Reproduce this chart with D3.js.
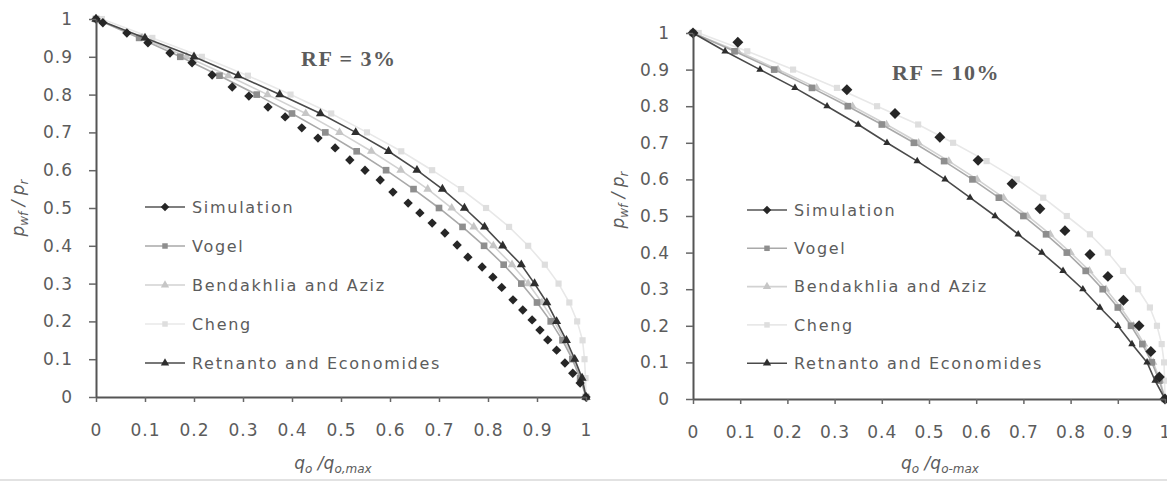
<!DOCTYPE html>
<html>
<head>
<meta charset="utf-8">
<script src="https://cdn.jsdelivr.net/npm/d3@7"></script>
<style>
  body { margin: 0; background: #fff; }
  svg { display: block; }
  text { font-family: "DejaVu Sans", sans-serif; fill: #5c5c5c; }
</style>
</head>
<body>
<svg id="chart"></svg>
<script>
// p_wf / p_r levels shared by the correlation curves
let pSteps = [1, 0.95, 0.9, 0.85, 0.8, 0.75, 0.7, 0.65, 0.6, 0.55, 0.5, 0.45, 0.4, 0.35, 0.3, 0.25, 0.2, 0.15, 0.1, 0.05, 0];

// q_o / q_o,max
let vogelQ = [0, 0.088, 0.172, 0.252, 0.328, 0.4, 0.468, 0.532, 0.592, 0.648, 0.7, 0.748, 0.792, 0.832, 0.868, 0.9, 0.928, 0.952, 0.972, 0.988, 1];
let bendakhlia3Q = [0, 0.094, 0.185, 0.27, 0.35, 0.428, 0.497, 0.562, 0.622, 0.677, 0.726, 0.771, 0.811, 0.849, 0.882, 0.91, 0.935, 0.956, 0.975, 0.99, 1];
let cheng3Q = [0.012, 0.115, 0.216, 0.31, 0.397, 0.48, 0.553, 0.623, 0.686, 0.745, 0.796, 0.843, 0.882, 0.916, 0.944, 0.966, 0.982, 0.993, 0.997, 0.999, 1];
let retnanto3Q = [0, 0.1, 0.2, 0.29, 0.375, 0.458, 0.53, 0.597, 0.655, 0.707, 0.752, 0.793, 0.83, 0.868, 0.895, 0.92, 0.94, 0.96, 0.977, 0.992, 1];

let bendakhlia10Q = [0, 0.095, 0.18, 0.262, 0.338, 0.41, 0.478, 0.542, 0.602, 0.658, 0.709, 0.757, 0.8, 0.84, 0.875, 0.906, 0.933, 0.956, 0.975, 0.99, 1];
let cheng10Q = [0.012, 0.115, 0.212, 0.305, 0.39, 0.477, 0.551, 0.622, 0.686, 0.742, 0.792, 0.841, 0.879, 0.911, 0.943, 0.968, 0.983, 0.993, 0.998, 0.999, 1];
let retnanto10Q = [0, 0.068, 0.142, 0.216, 0.284, 0.35, 0.411, 0.475, 0.534, 0.587, 0.64, 0.689, 0.739, 0.784, 0.826, 0.862, 0.9, 0.93, 0.962, 0.979, 1];

// simulation points
let sim3Q = [0, 0.014, 0.063, 0.106, 0.151, 0.196, 0.237, 0.278, 0.312, 0.351, 0.386, 0.42, 0.453, 0.488, 0.518, 0.549, 0.58, 0.606, 0.637, 0.661, 0.686, 0.712, 0.737, 0.759, 0.788, 0.81, 0.828, 0.851, 0.871, 0.89, 0.906, 0.922, 0.94, 0.957, 0.973, 0.988, 1];
let sim3P = [1, 0.99, 0.963, 0.937, 0.91, 0.884, 0.852, 0.82, 0.796, 0.767, 0.741, 0.712, 0.685, 0.659, 0.627, 0.6, 0.574, 0.542, 0.513, 0.487, 0.46, 0.434, 0.402, 0.37, 0.344, 0.317, 0.29, 0.257, 0.23, 0.204, 0.177, 0.151, 0.124, 0.09, 0.063, 0.037, 0];
let sim10Q = [0, 0.095, 0.326, 0.428, 0.523, 0.604, 0.676, 0.735, 0.788, 0.841, 0.879, 0.912, 0.945, 0.97, 0.988, 1];
let sim10P = [1, 0.975, 0.845, 0.78, 0.715, 0.652, 0.588, 0.52, 0.46, 0.395, 0.335, 0.27, 0.2, 0.13, 0.06, 0];

let tickValues = [0, 0.1, 0.2, 0.3, 0.4, 0.5, 0.6, 0.7, 0.8, 0.9, 1];
let tickLabels = ["0", "0.1", "0.2", "0.3", "0.4", "0.5", "0.6", "0.7", "0.8", "0.9", "1"];
let legendNames = ["Simulation", "Vogel", "Bendakhlia and Aziz", "Cheng", "Retnanto and Economides"];

let width = 1167;
let height = 483;

let svg = d3.select("#chart").attr("width", width).attr("height", height);

// styles for each series, in legend order
let styles = [
  { shape: "diamond", fill: "#262626", line: "#555", lineInPlot: false },
  { shape: "square", fill: "#8e8e8e", line: "#a9a9a9", lineInPlot: true },
  { shape: "triangle", fill: "#c6c6c6", line: "#d2d2d2", lineInPlot: true },
  { shape: "square", fill: "#dedede", line: "#e8e8e8", lineInPlot: true },
  { shape: "triangle", fill: "#2e2e2e", line: "#4a4a4a", lineInPlot: true }
];

let panels = [
  {
    left: 96, right: 586, bottom: 397, top: 19,
    title: "RF = 3%", titleX: 301, titleY: 66,
    series: [
      sim3Q.map((q, i) => [q, sim3P[i]]),
      vogelQ.map((q, i) => [q, pSteps[i]]),
      bendakhlia3Q.map((q, i) => [q, pSteps[i]]),
      cheng3Q.map((q, i) => [q, pSteps[i]]),
      retnanto3Q.map((q, i) => [q, pSteps[i]])
    ],
    sizes: [44, 44, 34, 38, 36],
    legendX: 145, legendY: 207, legendGap: 39,
    xTitleX: 333, xSub: "o,max", yTitleX: 24, yTitleY: 208
  },
  {
    left: 693, right: 1165, bottom: 399, top: 33,
    title: "RF = 10%", titleX: 892, titleY: 80,
    series: [
      sim10Q.map((q, i) => [q, sim10P[i]]),
      vogelQ.map((q, i) => [q, pSteps[i]]),
      bendakhlia10Q.map((q, i) => [q, pSteps[i]]),
      cheng10Q.map((q, i) => [q, pSteps[i]]),
      retnanto10Q.map((q, i) => [q, pSteps[i]])
    ],
    sizes: [60, 44, 30, 38, 24],
    legendX: 747, legendY: 210, legendGap: 38.3,
    xTitleX: 940, xSub: "o-max", yTitleX: 624, yTitleY: 200
  }
];

let symbolPath = (shape, size) => {
  let type = shape === "triangle" ? d3.symbolTriangle : d3.symbolSquare;
  return d3.symbol().type(type).size(size)();
};

let drawMarker = (g, shape, size, color, x, y) => {
  g.append("path")
    .attr("d", symbolPath(shape, size))
    .attr("fill", color)
    .attr("transform", "translate(" + x + "," + y + ")" + (shape === "diamond" ? " rotate(45)" : ""));
};

let drawPanel = (p) => {
  let xScale = d3.scaleLinear().domain([0, 1]).range([p.left, p.right]);
  let yScale = d3.scaleLinear().domain([0, 1]).range([p.bottom, p.top]);

  let g = svg.append("g");

  // series, lightest first
  let order = [3, 2, 1, 4, 0];
  order.forEach((k) => {
    let st = styles[k];
    let data = p.series[k];
    if (st.lineInPlot) {
      let line = d3.line().x((d) => xScale(d[0])).y((d) => yScale(d[1]));
      g.append("path")
        .attr("d", line(data))
        .attr("fill", "none")
        .attr("stroke", st.line)
        .attr("stroke-width", 1.6);
    }
    data.forEach((d) => {
      drawMarker(g, st.shape, p.sizes[k], st.fill, xScale(d[0]), yScale(d[1]));
    });
  });

  // axes
  let xAxis = d3.axisBottom(xScale)
    .tickValues(tickValues)
    .tickFormat((d, i) => tickLabels[i])
    .tickSize(5)
    .tickSizeOuter(0)
    .tickPadding(22);
  let yAxis = d3.axisLeft(yScale)
    .tickValues(tickValues)
    .tickFormat((d, i) => tickLabels[i])
    .tickSize(7)
    .tickSizeOuter(0)
    .tickPadding(16);

  let gx = svg.append("g")
    .attr("transform", "translate(0," + p.bottom + ")")
    .call(xAxis);
  let gy = svg.append("g")
    .attr("transform", "translate(" + p.left + ",0)")
    .call(yAxis);

  [gx, gy].forEach((a) => {
    a.select(".domain").attr("stroke", "#555").attr("stroke-width", 2);
    a.selectAll(".tick line").attr("stroke", "#666").attr("stroke-width", 1.5);
    a.selectAll(".tick text")
      .attr("fill", "#5c5c5c")
      .style("font-family", "'DejaVu Sans', sans-serif")
      .style("font-size", "17px")
      .style("letter-spacing", "1px");
  });

  // RF label
  svg.append("text")
    .attr("x", p.titleX)
    .attr("y", p.titleY)
    .style("font-family", "'Liberation Serif', serif")
    .style("font-weight", "bold")
    .style("font-size", "22px")
    .style("letter-spacing", "1.5px")
    .attr("fill", "#505050")
    .text(p.title);

  // x title
  let xt = svg.append("text")
    .attr("x", p.xTitleX)
    .attr("y", 469)
    .attr("text-anchor", "middle")
    .style("font-size", "17px")
    .style("font-style", "italic");
  xt.append("tspan").text("q");
  xt.append("tspan").attr("dy", 4).style("font-size", "12px").text("o");
  xt.append("tspan").attr("dy", -4).text(" /q");
  xt.append("tspan").attr("dy", 4).style("font-size", "12px").text(p.xSub);

  // y title
  let yt = svg.append("text")
    .attr("transform", "translate(" + p.yTitleX + "," + p.yTitleY + ") rotate(-90)")
    .attr("text-anchor", "middle")
    .style("font-size", "17px")
    .style("font-style", "italic");
  yt.append("tspan").text("p");
  yt.append("tspan").attr("dy", 4).style("font-size", "12px").text("wf");
  yt.append("tspan").attr("dy", -4).text(" / p");
  yt.append("tspan").attr("dy", 4).style("font-size", "12px").text("r");

  // legend
  legendNames.forEach((name, k) => {
    let st = styles[k];
    let ly = p.legendY + k * p.legendGap;
    svg.append("line")
      .attr("x1", p.legendX).attr("x2", p.legendX + 40)
      .attr("y1", ly).attr("y2", ly)
      .attr("stroke", st.line)
      .attr("stroke-width", 1.6);
    drawMarker(svg, st.shape, k === 0 ? 36 : 30, st.fill, p.legendX + 20, ly);
    svg.append("text")
      .attr("x", p.legendX + 47)
      .attr("y", ly)
      .attr("dy", "0.35em")
      .style("font-size", "16px")
      .style("letter-spacing", "1.7px")
      .text(name);
  });
};

panels.forEach(drawPanel);

// faint page edge at the bottom
svg.append("line")
  .attr("x1", 0).attr("x2", width)
  .attr("y1", 480).attr("y2", 480)
  .attr("stroke", "#e2e2e2")
  .attr("stroke-width", 2);
</script>
</body>
</html>
